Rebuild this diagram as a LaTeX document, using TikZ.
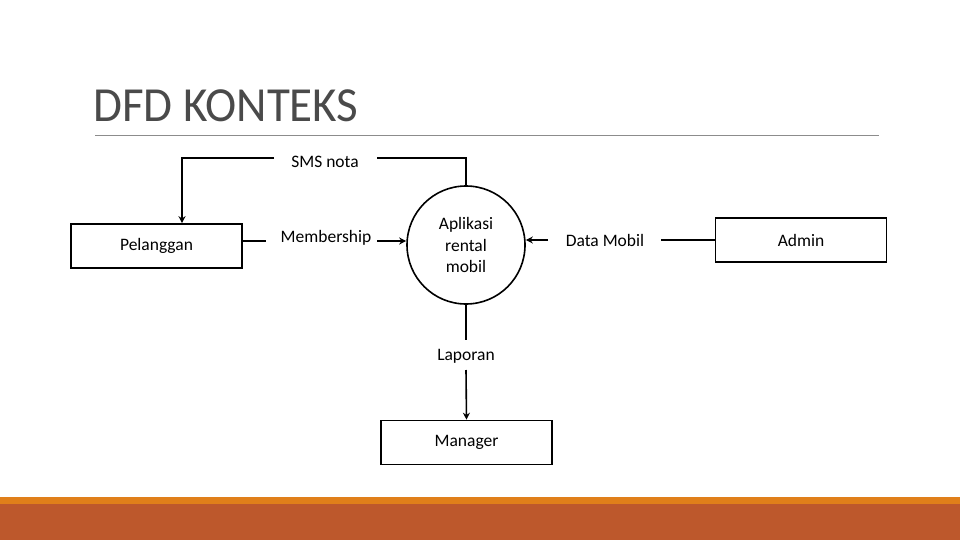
\documentclass[tikz,border=0pt]{standalone}
\usepackage{fontspec}
\setmainfont{Carlito}
\newfontfamily\titlefont[FakeStretch=0.96]{Carlito}
\usetikzlibrary{arrows.meta}
\definecolor{titlegray}{HTML}{4A4A4A}
\definecolor{rulegray}{HTML}{8C8C8C}
\definecolor{barorange}{HTML}{E07F1A}
\definecolor{barrust}{HTML}{BD582C}
\tikzset{
  entity/.style={draw, line width=1.6pt, minimum width=171pt, minimum height=44pt, inner sep=0pt, font=\fontsize{17.5}{21}\selectfont},
  proc/.style={draw, circle, line width=1.6pt, minimum size=118pt, inner sep=0pt, align=center, font=\fontsize{17.5}{21.5}\selectfont},
  flowlabel/.style={inner sep=0pt, font=\fontsize{17.5}{21}\selectfont},
  flow/.style={line width=1.6pt},
  flowarrow/.style={line width=1.6pt, -{Stealth[length=7pt,width=7pt]}}
}
\begin{document}
\begin{tikzpicture}[x=1pt,y=-1pt]
\useasboundingbox (0,0) rectangle (960,540);
% bottom bars
\fill[barrust] (0,504) rectangle (960,540);
\fill[barorange] (0,497) rectangle (960,504);
% title
\node[anchor=base west, inner sep=0pt, text=titlegray, font=\titlefont\fontsize{49}{60}\selectfont] (title) at (93,122) {DFD KONTEKS};
\draw[rulegray, line width=1pt] (95,136) -- (879,136);
% nodes
\node[entity] (pel) at (156.5,246) {Pelanggan};
\node[entity] (adm) at (801,240) {Admin};
\node[entity] (man) at (466.5,442.5) {Manager};
\node[proc] (app) at (466,245) {Aplikasi\\rental\\mobil};
% labels
\node[flowlabel] (sms) at (325,162) {SMS nota};
\node[flowlabel] (mem) at (326,238) {Membership};
\node[flowlabel] (dm) at (605,240) {Data Mobil};
\node[flowlabel] (lap) at (466,356) {Laporan};
% connectors
\coordinate (smsL) at (182,158);
\coordinate (smsR) at (466,158);
\coordinate (smsGapL) at (274,158);
\coordinate (smsGapR) at (377,158);
\draw[flowarrow] (smsGapL) -- (smsL) -- (pel.north -| smsL);
\draw[flow] (app.north) -- (smsR) -- (smsGapR);
\coordinate (memGapL) at (266,241);
\coordinate (memGapR) at (377,241);
\draw[flow] (pel.east |- memGapL) -- (memGapL);
\draw[flowarrow] (memGapR) -- (app.west |- memGapR);
\coordinate (dmGapL) at (548,240);
\coordinate (dmGapR) at (661,240);
\draw[flow] (adm.west) -- (dmGapR);
\draw[flowarrow] (dmGapL) -- (app.east |- dmGapL);
\coordinate (lapGapT) at (466,340);
\coordinate (lapGapB) at (466,370);
\draw[flow] (app.south) -- (lapGapT);
\draw[flowarrow] (lapGapB) -- (man.north);
\end{tikzpicture}
\end{document}
